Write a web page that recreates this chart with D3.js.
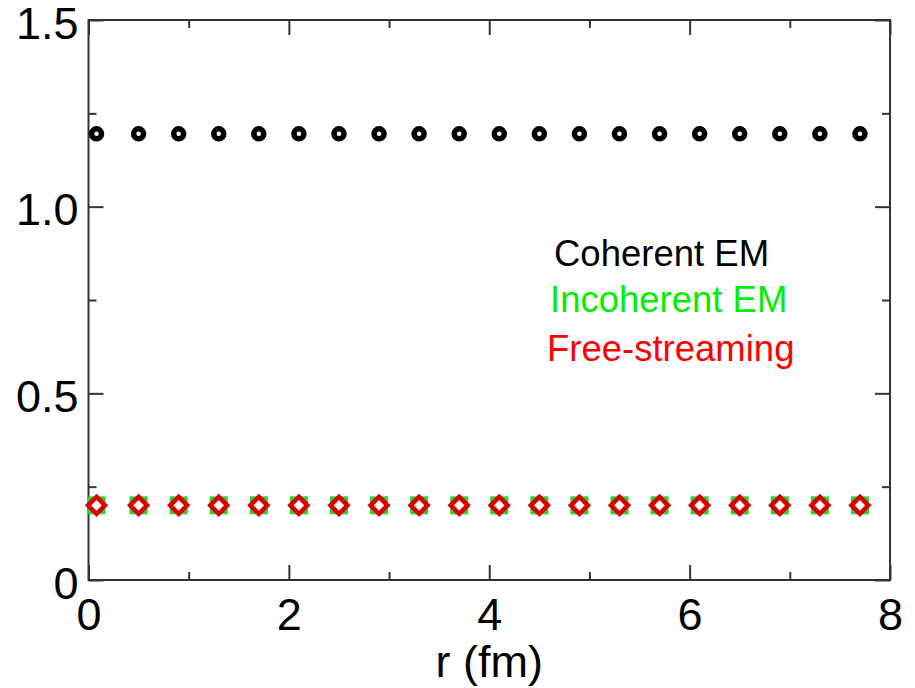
<!DOCTYPE html>
<html>
<head>
<meta charset="utf-8">
<script src="https://cdn.jsdelivr.net/npm/d3@7"></script>
<style>
  body { margin: 0; background: #fff; }
  svg { font-family: "Liberation Sans", Arial, sans-serif; }
</style>
</head>
<body>
<div id="chart"></div>
<script>
// values
var rValues = [0.08, 0.5, 0.9, 1.3, 1.7, 2.1, 2.5, 2.9, 3.3, 3.7, 4.1, 4.5, 4.9, 5.3, 5.7, 6.1, 6.5, 6.9, 7.3, 7.7];
var coherent = [1.195, 1.195, 1.195, 1.195, 1.195, 1.195, 1.195, 1.195, 1.195, 1.195, 1.195, 1.195, 1.195, 1.195, 1.195, 1.195, 1.195, 1.195, 1.195, 1.195];
var incoherent = [0.2, 0.2, 0.2, 0.2, 0.2, 0.2, 0.2, 0.2, 0.2, 0.2, 0.2, 0.2, 0.2, 0.2, 0.2, 0.2, 0.2, 0.2, 0.2, 0.2];
var freeStreaming = [0.2, 0.2, 0.2, 0.2, 0.2, 0.2, 0.2, 0.2, 0.2, 0.2, 0.2, 0.2, 0.2, 0.2, 0.2, 0.2, 0.2, 0.2, 0.2, 0.2];

var xMajor = [0, 2, 4, 6, 8];
var xMinor = [1, 3, 5, 7];
var yMajor = [0, 0.5, 1.0, 1.5];
var yMinor = [0.25, 0.75, 1.25];
var legendLabels = ["Coherent EM", "Incoherent EM", "Free-streaming"];

var W = 915, H = 688;
var padL = 88.5, padR = 890, padT = 20, padB = 580;

var svg = d3.select("#chart")
    .append("svg")
    .attr("width", W)
    .attr("height", H);

var x = d3.scaleLinear().domain([0, 8]).range([padL, padR]);
var y = d3.scaleLinear().domain([0, 1.5]).range([padB, padT]);

var yFmt = function(d) { return d === 0 ? "0" : d3.format(".1f")(d); };

function styleAxis(g) {
    g.select(".domain").remove();
    g.selectAll("line").attr("stroke", "#333").attr("stroke-width", 2);
    g.selectAll("text").attr("font-size", 45).attr("fill", "#000").attr("font-family", "Liberation Sans, Arial, sans-serif");
}

// bottom
svg.append("g").attr("transform", "translate(0," + padB + ")")
    .call(d3.axisBottom(x).tickValues(xMajor).tickSize(-15).tickPadding(18).tickFormat(d3.format("d")))
    .call(styleAxis);
svg.append("g").attr("transform", "translate(0," + padB + ")")
    .call(d3.axisBottom(x).tickValues(xMinor).tickSize(-8).tickFormat(""))
    .call(styleAxis);
// top
svg.append("g").attr("transform", "translate(0," + padT + ")")
    .call(d3.axisTop(x).tickValues(xMajor).tickSize(-15).tickFormat(""))
    .call(styleAxis);
svg.append("g").attr("transform", "translate(0," + padT + ")")
    .call(d3.axisTop(x).tickValues(xMinor).tickSize(-8).tickFormat(""))
    .call(styleAxis);
// left
svg.append("g").attr("transform", "translate(" + padL + ",0)")
    .call(d3.axisLeft(y).tickValues(yMajor).tickSize(-15).tickPadding(10).tickFormat(yFmt))
    .call(styleAxis)
    .call(function(g) { g.selectAll("text").attr("dy", "0.4em"); });
svg.append("g").attr("transform", "translate(" + padL + ",0)")
    .call(d3.axisLeft(y).tickValues(yMinor).tickSize(-8).tickFormat(""))
    .call(styleAxis);
// right
svg.append("g").attr("transform", "translate(" + padR + ",0)")
    .call(d3.axisRight(y).tickValues(yMajor).tickSize(-15).tickFormat(""))
    .call(styleAxis);
svg.append("g").attr("transform", "translate(" + padR + ",0)")
    .call(d3.axisRight(y).tickValues(yMinor).tickSize(-8).tickFormat(""))
    .call(styleAxis);

// frame
svg.append("rect")
    .attr("x", padL).attr("y", padT)
    .attr("width", padR - padL).attr("height", padB - padT)
    .attr("fill", "none").attr("stroke", "#333").attr("stroke-width", 2);

// axis title
svg.append("text")
    .attr("x", (padL + padR) / 2).attr("y", 677)
    .attr("text-anchor", "middle")
    .attr("font-size", 45)
    .text("r (fm)");

// coherent: black open circles
svg.append("g").selectAll("circle")
    .data(rValues)
    .join("circle")
    .attr("cx", function(d) { return x(d); })
    .attr("cy", function(d, i) { return y(coherent[i]); })
    .attr("r", 5)
    .attr("fill", "#fff")
    .attr("stroke", "#000")
    .attr("stroke-width", 5.5);

// incoherent: green squares
svg.append("g").selectAll("rect")
    .data(rValues)
    .join("rect")
    .attr("x", function(d) { return x(d) - 9; })
    .attr("y", function(d, i) { return y(incoherent[i]) - 9; })
    .attr("width", 18).attr("height", 18)
    .attr("fill", "#33cc33");

// free-streaming: red open diamonds
var diamond = "M0,-8.5L8.5,0L0,8.5L-8.5,0Z";
svg.append("g").selectAll("path")
    .data(rValues)
    .join("path")
    .attr("d", diamond)
    .attr("transform", function(d, i) { return "translate(" + x(d) + "," + y(freeStreaming[i]) + ")"; })
    .attr("fill", "#fff")
    .attr("stroke", "#d90000")
    .attr("stroke-width", 4.5);

// legend text
var legendColors = ["#000", "#00ee00", "#ff0000"];
var legendPos = [[554, 266], [550, 312], [547, 361]];
svg.append("g").selectAll("text")
    .data(legendLabels)
    .join("text")
    .attr("x", function(d, i) { return legendPos[i][0]; })
    .attr("y", function(d, i) { return legendPos[i][1]; })
    .attr("font-size", 36.5)
    .attr("fill", function(d, i) { return legendColors[i]; })
    .text(function(d) { return d; });
</script>
</body>
</html>
